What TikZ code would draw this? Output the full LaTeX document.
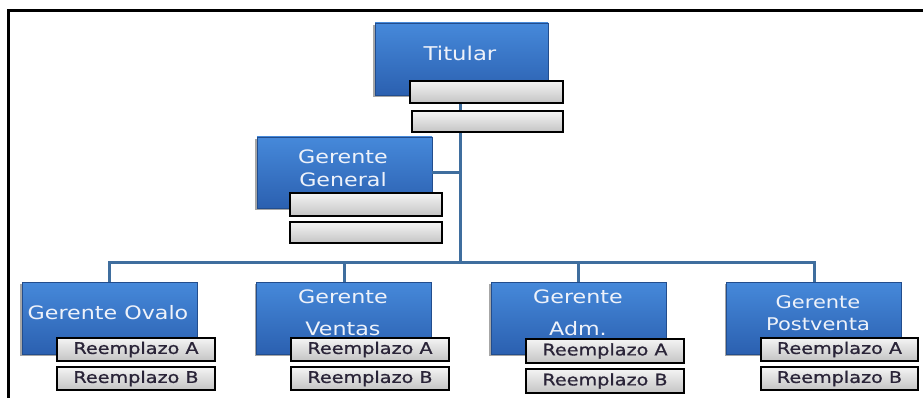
\documentclass[tikz,border=0pt]{standalone}
\usepackage{fontspec}
\newfontfamily\boxfont[FakeStretch=1.2]{DejaVu Sans}
\newfontfamily\subfont[FakeStretch=1.2,FakeBold=0.8]{DejaVu Sans}
\usetikzlibrary{shadows}
\definecolor{bluetop}{HTML}{4689DA}
\definecolor{bluebot}{HTML}{2B60B0}
\definecolor{connblue}{HTML}{3F6E9E}
\definecolor{greytop}{HTML}{F4F4F4}
\definecolor{greybot}{HTML}{C4C4C4}
\definecolor{txtwhite}{HTML}{EEF2FA}
\definecolor{subtxt}{HTML}{2A2438}
\tikzset{
  bluebox/.style={rectangle, draw=bluebot!80!black, line width=0.4pt, top color=bluetop, bottom color=bluebot,
    inner sep=0pt, drop shadow={shadow xshift=-2pt, shadow yshift=-2pt, opacity=0.35, fill=black}},
  subbox/.style={rectangle, draw=black, line width=1.6pt, top color=greytop, bottom color=greybot,
    inner sep=0pt, font=\subfont\fontsize{16}{18}\selectfont, text=subtxt},
  btext/.style={font=\boxfont\fontsize{18.5}{23}\selectfont, text=txtwhite, align=center, inner sep=0pt},
  conn/.style={draw=connblue, line width=3pt},
}
\begin{document}
\begin{tikzpicture}[x=1pt,y=-1pt]
\useasboundingbox (0,0) rectangle (923,398);
\fill[white] (0,0) rectangle (923,398);
\draw[line width=3pt] (8,399) -- (8,11) -- (924,11);

% connector end points
\coordinate (bt) at (460,263);
\coordinate (tt) at (460,95);

% Top level
\node[bluebox, minimum width=173pt, minimum height=72pt] (tit) at (461.5,59) {};
% Gerente General
\node[bluebox, minimum width=175pt, minimum height=71pt] (gg) at (344.5,172.5) {};
% bottom level
\node[bluebox, minimum width=175pt, minimum height=72pt] (ova) at (109.5,318) {};
\node[bluebox, minimum width=175pt, minimum height=72pt] (ven) at (344,318) {};
\node[bluebox, minimum width=175pt, minimum height=72pt] (adm) at (578.5,318) {};
\node[bluebox, minimum width=175pt, minimum height=72pt] (pos) at (814,318) {};

\draw[conn] (tt) -- (bt);
\draw[conn] (gg.east) -- (gg.east -| bt);
\draw[conn] (ova.north) -- ++(0,-19) -| (pos.north);
\draw[conn] (ven.north) -- (ven.north |- bt);
\draw[conn] (adm.north) -- (adm.north |- bt);

% texts
\node[btext, font=\boxfont\fontsize{19}{23}\selectfont] (titT) at (460,53) {Titular};
\node[btext] (ggT) at (343,168.5) {Gerente\\General};
\node[btext] (ovaT) at (108,313) {Gerente Ovalo};
\node[btext, font=\boxfont\fontsize{18.5}{32}\selectfont] (venT) at (343,313) {Gerente\\Ventas};
\node[btext, font=\boxfont\fontsize{18.5}{32}\selectfont] (admT) at (578,313) {Gerente\\Adm.};
\node[btext, font=\boxfont\fontsize{17.5}{22}\selectfont] (posT) at (818,313) {Gerente\\Postventa};

% sub boxes
\node[subbox, minimum width=153pt, minimum height=22pt] (titA) at (486.5,92) {};
\node[subbox, minimum width=151pt, minimum height=21pt] (titB) at (487.5,121.5) {};
\node[subbox, minimum width=152pt, minimum height=23pt] (ggA) at (366,204.5) {};
\node[subbox, minimum width=152pt, minimum height=21pt] (ggB) at (366,232.5) {};

\node[subbox, minimum width=158pt, minimum height=23pt] (ovaA) at (136,349.5) {Reemplazo A};
\node[subbox, minimum width=158pt, minimum height=23pt] (ovaB) at (136,378.5) {Reemplazo B};
\node[subbox, minimum width=158pt, minimum height=23pt] (venA) at (370,349.5) {Reemplazo A};
\node[subbox, minimum width=158pt, minimum height=23pt] (venB) at (370,378.5) {Reemplazo B};
\node[subbox, minimum width=158pt, minimum height=24pt] (admA) at (605,351) {Reemplazo A};
\node[subbox, minimum width=158pt, minimum height=24pt] (admB) at (605,381) {Reemplazo B};
\node[subbox, minimum width=157pt, minimum height=23pt] (posA) at (839.5,349.5) {Reemplazo A};
\node[subbox, minimum width=157pt, minimum height=23pt] (posB) at (839.5,378.5) {Reemplazo B};
\end{tikzpicture}
\end{document}
